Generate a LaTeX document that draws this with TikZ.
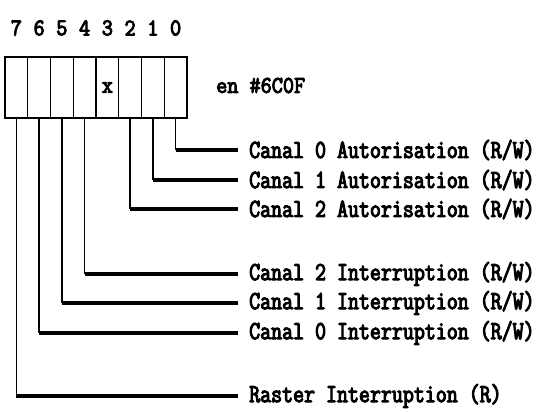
\documentclass[tikz,border=0pt]{standalone}
\usepackage{fontspec}
\newfontfamily\regfont[FakeStretch=0.9,FakeBold=4]{Latin Modern Mono}
\newfontfamily\flagfont[FakeStretch=0.82,FakeBold=4]{Latin Modern Mono}
\newcommand{\regsize}{\regfont\fontsize{24}{26}\selectfont}
\newcommand{\flagsize}{\flagfont\fontsize{26}{28}\selectfont}
\usetikzlibrary{positioning}

\begin{document}
\begin{tikzpicture}[
    x=1pt, y=1pt,
    node distance=0pt,
    cell/.style={draw, line width=1.4pt, minimum width=22.75pt, minimum height=61pt, inner sep=0pt, outer sep=0pt, font=\regsize},
    bitnum/.style={inner sep=0pt, font=\regsize},
    flag/.style={anchor=west, inner xsep=11pt, inner ysep=0pt, font=\flagsize},
    stem/.style={line width=1.4pt},
    bar/.style={line width=4pt}]
    \useasboundingbox (0,0) rectangle (542,-413);
    % register cells, bit 7 on the left
    \node[cell] (c7) at (16.375,-87.5) {};
    \node[cell, right=of c7] (c6) {};
    \node[cell, right=of c6] (c5) {};
    \node[cell, right=of c5] (c4) {};
    \node[cell, right=of c4] (c3) {x};
    \node[cell, right=of c3] (c2) {};
    \node[cell, right=of c2] (c1) {};
    \node[cell, right=of c1] (c0) {};
    \node[bitnum, anchor=west, right=29pt of c0, yshift=2pt] (addr) {en \#6C0F};
    % bit numbers
    \node[bitnum] (n7) at (c7 |- 0,-28) {7}; \node[bitnum] (n6) at (c6 |- 0,-28) {6};
    \node[bitnum] (n5) at (c5 |- 0,-28) {5}; \node[bitnum] (n4) at (c4 |- 0,-28) {4};
    \node[bitnum] (n3) at (c3 |- 0,-28) {3}; \node[bitnum] (n2) at (c2 |- 0,-28) {2};
    \node[bitnum] (n1) at (c1 |- 0,-28) {1}; \node[bitnum] (n0) at (c0 |- 0,-28) {0};
    % bit meanings
    \node[flag] (l0) at (238,-150) {Canal 0 Autorisation (R/W)};
    \node[flag] (l1) at (238,-180) {Canal 1 Autorisation (R/W)};
    \node[flag] (l2) at (238,-209) {Canal 2 Autorisation (R/W)};
    \node[flag] (l4) at (238,-274) {Canal 2 Interruption (R/W)};
    \node[flag] (l5) at (238,-303) {Canal 1 Interruption (R/W)};
    \node[flag] (l6) at (238,-333) {Canal 0 Interruption (R/W)};
    \node[flag] (l7) at (238,-396) {Raster Interruption (R)};
    % leaders
    \draw[stem] (c0.south) -- (c0 |- l0.west); \draw[bar] (c0 |- l0.west) -- (l0.west);
    \draw[stem] (c1.south) -- (c1 |- l1.west); \draw[bar] (c1 |- l1.west) -- (l1.west);
    \draw[stem] (c2.south) -- (c2 |- l2.west); \draw[bar] (c2 |- l2.west) -- (l2.west);
    \draw[stem] (c4.south) -- (c4 |- l4.west); \draw[bar] (c4 |- l4.west) -- (l4.west);
    \draw[stem] (c5.south) -- (c5 |- l5.west); \draw[bar] (c5 |- l5.west) -- (l5.west);
    \draw[stem] (c6.south) -- (c6 |- l6.west); \draw[bar] (c6 |- l6.west) -- (l6.west);
    \draw[stem] (c7.south) -- (c7 |- l7.west); \draw[bar] (c7 |- l7.west) -- (l7.west);
\end{tikzpicture}
\end{document}
